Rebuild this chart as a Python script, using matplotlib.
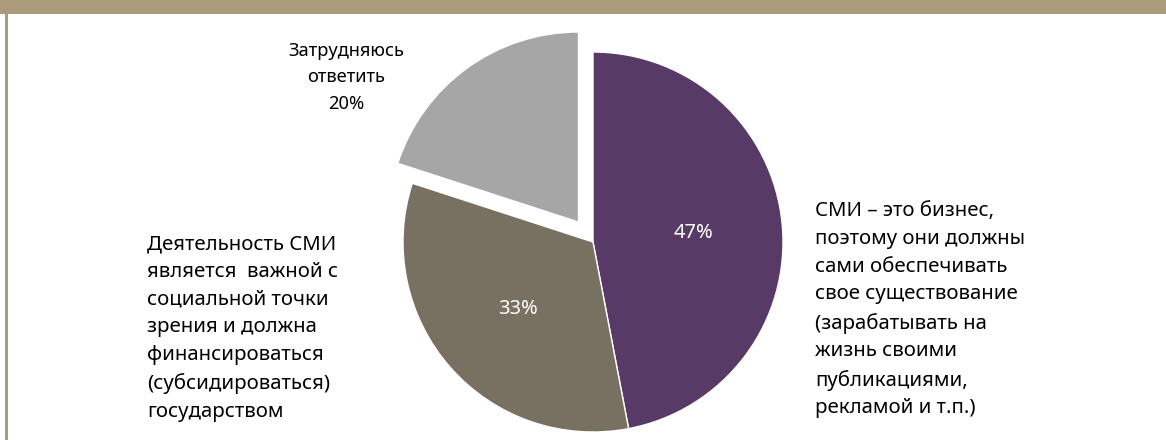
import matplotlib
matplotlib.use("Agg")
import matplotlib.pyplot as plt
from matplotlib.patches import Rectangle

# доли ответов, по часовой стрелке от 12 часов
shares = [47, 33, 20]
colors = ["#573B66", "#787060", "#A6A6A6"]

label_business = ("СМИ – это бизнес,\nпоэтому они должны\nсами обеспечивать\n"
                  "свое существование\n(зарабатывать на\nжизнь своими\n"
                  "публикациями,\nрекламой и т.п.)")
label_state = ("Деятельность СМИ\nявляется  важной с\nсоциальной точки\n"
               "зрения и должна\nфинансироваться\n(субсидироваться)\nгосударством")
label_unsure = "Затрудняюсь\nответить"

W, H = 1166, 440
R = 190
plt.rcParams["font.family"] = ["Noto Sans", "DejaVu Sans"]

fig = plt.figure(figsize=(W / 100, H / 100), dpi=100)
ax = fig.add_axes([0, 0, 1, 1])

# рамка слайда: полоса сверху и линия слева
ax.add_patch(Rectangle((0, H - 14), W, 14, color="#AB9B7C", lw=0))
ax.add_patch(Rectangle((5, 0), 3, H, color="#AB9B7C", lw=0))

# explode в pie задаётся в единицах данных, поэтому умножаем на радиус
wedges, texts, autotexts = ax.pie(
    shares, colors=colors, explode=[0, 0, 0.13 * R], startangle=90,
    counterclock=False, center=(593, H - 242), radius=R, frame=True,
    autopct=lambda p: f"{p:.0f}%" if p > 25 else "", pctdistance=0.53,
    wedgeprops=dict(edgecolor="white", linewidth=1),
    textprops=dict(color="white", fontsize=14.5))
ax.set_xlim(0, W)
ax.set_ylim(0, H)
ax.axis("off")

ax.text(815, H - 201, label_business, ha="left", va="top", fontsize=14.7,
        color="black", linespacing=1.52)
ax.text(147, H - 234, label_state, ha="left", va="top", fontsize=14.7,
        color="black", linespacing=1.52)
ax.text(346, H - 42, f"{label_unsure}\n{shares[2]}%", ha="center", va="top",
        fontsize=13.2, color="black", linespacing=1.6)

fig.savefig("out.png", dpi=100)
